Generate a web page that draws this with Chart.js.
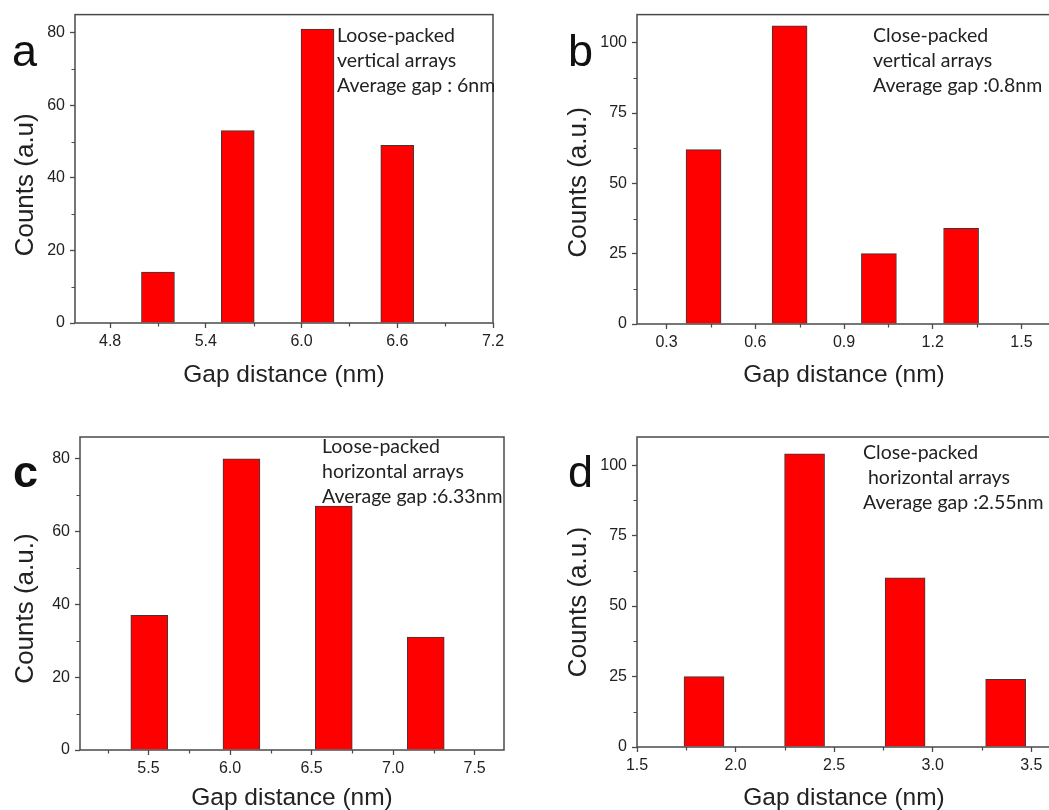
<!DOCTYPE html>
<html>
<head>
<meta charset="utf-8">
<script src="https://cdn.jsdelivr.net/npm/chart.js@4.4.1/dist/chart.umd.min.js"></script>
<style>
  html, body { margin:0; padding:0; background:#fff; width:1049px; height:810px; overflow:hidden; }
  .panel { position:absolute; }
  .note { position:absolute; font-family:Lato, sans-serif; font-size:19.5px; line-height:25px; color:#222; white-space:pre; }
  .letter { position:absolute; font-family:"Liberation Sans", Arial, sans-serif; font-size:45px; line-height:45px; color:#111; }
</style>
</head>
<body>
<canvas id="ca" class="panel" width="520" height="400" style="left:0;top:0"></canvas>
<canvas id="cb" class="panel" width="560" height="400" style="left:520px;top:0"></canvas>
<canvas id="cc" class="panel" width="520" height="420" style="left:0;top:400px"></canvas>
<canvas id="cd" class="panel" width="560" height="420" style="left:520px;top:400px"></canvas>

<div class="letter" style="left:12px;top:28px">a</div>
<div class="letter" style="left:568px;top:28px">b</div>
<div class="letter" style="left:13px;top:449px;font-weight:bold">c</div>
<div class="letter" style="left:568px;top:449px">d</div>

<div class="note" style="left:337px;top:22px">Loose-packed
vertical arrays
Average gap : 6nm</div>
<div class="note" style="left:873px;top:22px">Close-packed
vertical arrays
Average gap :0.8nm</div>
<div class="note" style="left:322px;top:433px">Loose-packed
horizontal arrays
Average gap :6.33nm</div>
<div class="note" style="left:863px;top:439px">Close-packed
 horizontal arrays
Average gap :2.55nm</div>

<script>
// ---- data ----
const aGap = [5.1, 5.6, 6.1, 6.6];
const aCounts = [14, 53, 81, 49];
const bGap = [0.425, 0.716, 1.018, 1.296];
const bCounts = [62, 106, 25, 34];
const cGap = [5.505, 6.07, 6.636, 7.2];
const cCounts = [37, 80, 67, 31];
const dGap = [1.84, 2.35, 2.86, 3.37];
const dCounts = [25, 104, 60, 24];

const aXTicks = [4.8, 5.4, 6.0, 6.6, 7.2];
const aXMinor = [5.1, 5.7, 6.3, 6.9];
const bXTicks = [0.3, 0.6, 0.9, 1.2, 1.5];
const bXMinor = [0.45, 0.75, 1.05, 1.35];
const cXTicks = [5.5, 6.0, 6.5, 7.0, 7.5];
const cXMinor = [5.25, 5.75, 6.25, 6.75, 7.25];
const dXTicks = [1.5, 2.0, 2.5, 3.0, 3.5];
const dXMinor = [1.75, 2.25, 2.75, 3.25];

const yTicks80 = [0, 20, 40, 60, 80];
const yMinor80 = [10, 30, 50, 70];
const yTicks100 = [0, 25, 50, 75, 100];
const yMinor100 = [12.5, 37.5, 62.5, 87.5];

const xTitle = 'Gap distance (nm)';
const yTitleA = 'Counts (a.u)';
const yTitleB = 'Counts (a.u.)';

// ---- styling ----
const AXIS = '#4a4a4a';
const TEXT = '#222';
const TICK_FONT = { family: '"Liberation Sans", Arial, sans-serif', size: 16 };

const framePlugin = {
  id: 'frame',
  afterDraw(chart, args, o) {
    const { ctx, chartArea: ca, scales: { x, y } } = chart;
    ctx.save();
    ctx.strokeStyle = AXIS;
    ctx.lineWidth = 1.5;
    ctx.strokeRect(ca.left, ca.top, ca.right - ca.left, ca.bottom - ca.top);
    ctx.lineWidth = 1.2;
    ctx.beginPath();
    o.xMinor.forEach(v => { const p = Math.round(x.getPixelForValue(v)) + 0.5; ctx.moveTo(p, ca.bottom); ctx.lineTo(p, ca.bottom + 3.5); });
    o.yMinor.forEach(v => { const p = Math.round(y.getPixelForValue(v)) + 0.5; ctx.moveTo(ca.left, p); ctx.lineTo(ca.left - 3.5, p); });
    ctx.stroke();
    ctx.fillStyle = TEXT;
    ctx.textAlign = 'center';
    ctx.textBaseline = 'middle';
    ctx.font = '24.5px "Liberation Sans", Arial, sans-serif';
    ctx.fillText(o.xTitle, (ca.left + ca.right) / 2 + o.xShift, ca.bottom + o.xGap);
    ctx.translate(ca.left - o.yGap, (ca.top + ca.bottom) / 2 + o.yShift);
    ctx.rotate(-Math.PI / 2);
    ctx.font = '26px "Liberation Sans", Arial, sans-serif';
    ctx.fillText(o.yTitle, 0, 0);
    ctx.restore();
  }
};

function makePanel(id, p) {
  const data = p.gap.map((g, i) => ({ x: g, y: p.counts[i] }));
  new Chart(document.getElementById(id), {
    type: 'bar',
    data: { datasets: [{
      data,
      backgroundColor: '#ff0000',
      borderColor: '#3a3a3a',
      borderWidth: 1,
      borderSkipped: 'start',
      barThickness: p.barPx
    }] },
    options: {
      responsive: false,
      animation: false,
      devicePixelRatio: 1,
      layout: { padding: { left: 0, top: p.padTop, right: p.padRight, bottom: 0 } },
      plugins: {
        legend: { display: false },
        tooltip: { enabled: false },
        frame: { xMinor: p.xMinor, yMinor: p.yMinor, xTitle: xTitle, yTitle: p.yTitle,
                 xGap: p.xGap, xShift: p.xShift || 0, yGap: p.yGap, yShift: p.yShift }
      },
      scales: {
        x: {
          type: 'linear',
          offset: false,
          min: p.xMin, max: p.xMax,
          afterBuildTicks: s => { s.ticks = p.xTicks.map(v => ({ value: v })); },
          afterFit: s => { s.height = p.xAxisH; },
          border: { display: false },
          grid: { display: true, offset: false, drawOnChartArea: false, drawTicks: true, tickLength: 5, tickColor: AXIS, tickWidth: 1.3 },
          ticks: { autoSkip: false, maxRotation: 0, padding: 4, color: TEXT, font: TICK_FONT,
                   callback: v => Number(v).toFixed(1) },
          title: { display: false }
        },
        y: {
          type: 'linear',
          min: 0, max: p.yMax,
          afterBuildTicks: s => { s.ticks = p.yTicks.map(v => ({ value: v })); },
          afterFit: s => { s.width = p.yAxisW; },
          border: { display: false },
          grid: { display: true, drawOnChartArea: false, drawTicks: true, tickLength: 5, tickColor: AXIS, tickWidth: 1.3 },
          ticks: { autoSkip: false, padding: 5, color: TEXT, font: TICK_FONT, callback: v => String(v) },
          title: { display: false }
        }
      }
    },
    plugins: [framePlugin]
  });
}

makePanel('ca', { gap: aGap, counts: aCounts, xMin: 4.58, xMax: 7.2, yMax: 85, xTicks: aXTicks, xMinor: aXMinor,
  yTicks: yTicks80, yMinor: yMinor80, yTitle: yTitleA, barPx: 33,
  padTop: 14, padRight: 27, yAxisW: 75, xAxisH: 77, xGap: 52, yGap: 49, yShift: 16 });
makePanel('cb', { gap: bGap, counts: bCounts, xMin: 0.2, xMax: 1.6, yMax: 110, xTicks: bXTicks, xMinor: bXMinor,
  yTicks: yTicks100, yMinor: yMinor100, yTitle: yTitleB, barPx: 35,
  padTop: 14, padRight: 29, yAxisW: 117, xAxisH: 76, xGap: 51, yGap: 58, yShift: 13 });
makePanel('cc', { gap: cGap, counts: cCounts, xMin: 5.08, xMax: 7.68, yMax: 86, xTicks: cXTicks, xMinor: cXMinor,
  yTicks: yTicks80, yMinor: yMinor80, yTitle: yTitleB, barPx: 37,
  padTop: 37, padRight: 16, yAxisW: 80, xAxisH: 70, xGap: 48, yGap: 54, yShift: 15 });
makePanel('cd', { gap: dGap, counts: dCounts, xMin: 1.5, xMax: 3.6, yMax: 110, xTicks: dXTicks, xMinor: dXMinor,
  yTicks: yTicks100, yMinor: yMinor100, yTitle: yTitleB, barPx: 40,
  padTop: 37, padRight: 29, yAxisW: 117, xAxisH: 73, xGap: 51, yGap: 58, yShift: 10 });
</script>
</body>
</html>
